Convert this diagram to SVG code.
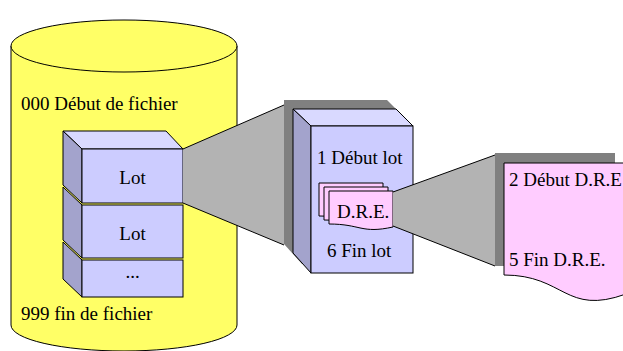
<svg xmlns="http://www.w3.org/2000/svg" width="623" height="351" viewBox="0 0 623 351">
<style>
.t{font-family:"Liberation Serif","Times New Roman",serif;font-size:19px;fill:#000}
.ln{stroke:#000;stroke-width:1;stroke-linejoin:round}
.front{fill:#ccccff;stroke:#000;stroke-width:1}
.side{fill:#a3a3cc;stroke:#000;stroke-width:1;stroke-linejoin:round}
.top{fill:#d9d9ff;stroke:#000;stroke-width:1;stroke-linejoin:round}
.doc{fill:#ffccff;stroke:#000;stroke-width:1;stroke-linejoin:round}
.funnel{fill:#b3b3b3}
.shadow{fill:#808080}
</style>
<g id="fichier">
<path d="M11,46 V325 A113,26 0 0 0 237,325 V46 Z" fill="#ffff66" class="ln"/>
<ellipse cx="124" cy="46" rx="113" ry="26" fill="#ffff66" class="ln"/>
<text class="t" x="21" y="110">000 Début de fichier</text>
<text class="t" x="21" y="320">999 fin de fichier</text>
</g>
<g id="lots">
<polygon class="side" points="63,242 82,260 82,297 63,279"/>
<rect class="front" x="82" y="260" width="101" height="37"/>
<text class="t" x="132.5" y="278" text-anchor="middle">...</text>
<polygon class="side" points="63,187 82,205 82,258 63,240"/>
<rect class="front" x="82" y="205" width="101" height="53"/>
<text class="t" x="132.5" y="240" text-anchor="middle">Lot</text>
<polygon class="top" points="63,131 166,131 183,149 82,149"/>
<polygon class="side" points="63,131 82,149 82,203 63,185"/>
<rect class="front" x="82" y="149" width="101" height="54"/>
<text class="t" x="132.5" y="184" text-anchor="middle">Lot</text>
</g>
<g id="connectors">
<polygon class="funnel" points="183,149 284,105 284,245 183,203"/>
<path class="ln" d="M183,149 L284,105 M183,203 L284,245" fill="none"/>
</g>
<g id="lot-detail">
<polygon class="shadow" points="284,100 387,100 404,117 404,264 302,264 284,244"/>
<polygon class="top" points="293,109 396,109 413,126 311,126"/>
<polygon class="side" points="293,109 311,126 311,273 293,253"/>
<rect class="front" x="311" y="126" width="102" height="147"/>
<text class="t" x="317" y="164">1 Début lot</text>
<text class="t" x="327" y="257">6 Fin lot</text>
</g>
<g id="dre-small">
<path class="doc" d="M319,183 H383 V219 C351,226 351,216 319,216 Z"/>
<path class="doc" d="M324,187 H388 V223 C356,230 356,220 324,220 Z"/>
<path class="doc" d="M329,191 H393 V227 C361,234 361,224 329,224 Z"/>
<text class="t" x="337" y="218">D.R.E.</text>
</g>
<g id="connectors2">
<polygon class="funnel" points="393,192 495,155 495,266 393,226"/>
<path class="ln" d="M393,192 L495,155 M393,226 L495,266" fill="none"/>
</g>
<g id="dre-detail">
<rect class="shadow" x="495" y="153" width="120" height="113"/>
<path class="doc" d="M504,163 H626 V294 C565,316 565,275 504,275 Z"/>
<text class="t" x="509" y="186">2 Début D.R.E</text>
<text class="t" x="509" y="266">5 Fin D.R.E.</text>
</g>
</svg>
